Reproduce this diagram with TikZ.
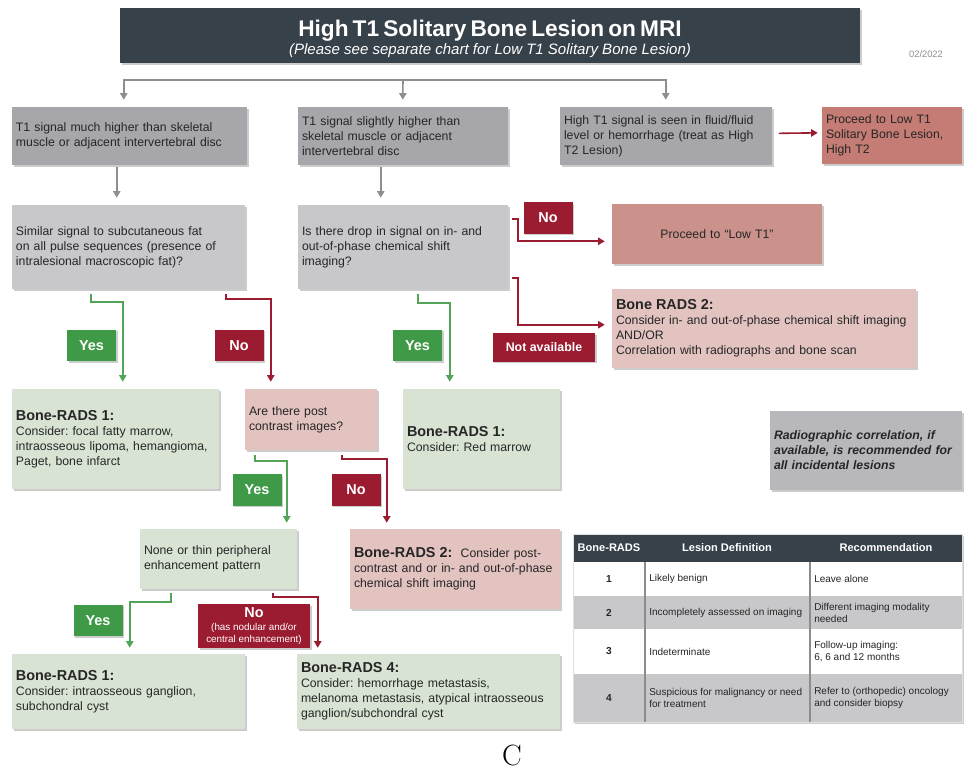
\documentclass[tikz,border=0pt]{standalone}
\usepackage{fontspec}
\setsansfont{Liberation Sans}
\usetikzlibrary{arrows.meta,calc,shadows}

\definecolor{titlebg}{HTML}{37414A}
\definecolor{rowone}{HTML}{A7A6AA}
\definecolor{rowtwo}{HTML}{C8C7CA}
\definecolor{benign}{HTML}{D9E3D3}
\definecolor{workup}{HTML}{E2C3BF}
\definecolor{lowtone}{HTML}{CB928C}
\definecolor{hightwo}{HTML}{C47C74}
\definecolor{yesgreen}{HTML}{3F9A47}
\definecolor{nored}{HTML}{9B1B30}
\definecolor{arrgray}{HTML}{8E8E92}
\definecolor{notegray}{HTML}{B8B7BB}
\definecolor{textdark}{HTML}{262626}
\definecolor{tabline}{HTML}{8C8C8C}

% box from its pixel corners: name, x1, y1, x2, y2, style, text
\newcommand{\radsbox}[7]{%
  \pgfmathsetmacro{\boxw}{(#4-#2)*0.75}%
  \pgfmathsetmacro{\boxh}{(#5-#3)*0.75}%
  \pgfmathsetmacro{\boxtw}{(#4-#2-8)*0.75}%
  \node[#6, minimum width=\boxw pt, minimum height=\boxh pt, text width=\boxtw pt]
    (#1) at ({(#2+#4)/2},{(#3+#5)/2}) {#7};}
\newcommand{\rads}[1]{{\bfseries\fontsize{10.8}{13}\selectfont #1}}

\begin{document}
\frenchspacing
\begin{tikzpicture}[x=0.75pt, y=-0.75pt,
    shade/.style={drop shadow={shadow xshift=1.2pt, shadow yshift=-1.2pt, fill=black, opacity=0.2}},
    base/.style={shade, inner xsep=3pt, inner ysep=4pt, align=left, text=textdark,
      font=\sffamily\fontsize{9.2}{11.25}\selectfont},
    titlebox/.style={base, fill=titlebg, text=white, align=center},
    graybox/.style={base, fill=rowone},
    lgraybox/.style={base, fill=rowtwo},
    greenbox/.style={base, fill=benign},
    pinkbox/.style={base, fill=workup},
    lowbox/.style={base, fill=lowtone, align=center},
    hightwobox/.style={base, fill=hightwo},
    notebox/.style={base, fill=notegray, font=\sffamily\bfseries\itshape\fontsize{9.2}{11.25}\selectfont},
    lab/.style={shade, inner sep=1pt, text=white, minimum width=36.75pt, minimum height=23.5pt,
      font=\sffamily\bfseries\fontsize{10.8}{13}\selectfont},
    yeslab/.style={lab, fill=yesgreen},
    nolab/.style={lab, fill=nored},
    grayarr/.style={draw=arrgray, line width=1.2pt, -{Triangle[length=5pt,width=5.5pt]}},
    yesarr/.style={draw=yesgreen!90!white, line width=1.2pt, -{Triangle[length=5pt,width=5.5pt]}},
    noarr/.style={draw=nored, line width=1.2pt, -{Triangle[length=5pt,width=5.5pt]}},
    tabhead/.style={text=white, font=\sffamily\bfseries\fontsize{8.3}{10}\selectfont},
    tabnum/.style={text=textdark, font=\sffamily\bfseries\fontsize{7.6}{9}\selectfont},
    tabcell/.style={text=textdark, align=left, inner sep=1.5pt, font=\sffamily\fontsize{7.5}{9}\selectfont}]
  \useasboundingbox (0,0) rectangle (967,772);

  % header
  \radsbox{title}{120}{8}{860}{63}{titlebox}{\rule{0pt}{17pt}{\bfseries\fontsize{17}{20}\selectfont High T1 Solitary Bone Lesion on MRI}\\[1pt]
    {\itshape\fontsize{11.3}{14}\selectfont (Please see separate chart for Low T1 Solitary Bone Lesion)}}
  \node[text=arrgray, font=\sffamily\fontsize{7}{8}\selectfont] (date) at (926,54) {02/2022};

  % boxes
  \radsbox{A}{12}{107}{247}{165}{graybox}{T1 signal much higher than skeletal\\muscle or adjacent intervertebral disc}
  \radsbox{B}{298}{107}{508}{165}{graybox}{T1 signal slightly higher than\\skeletal muscle or adjacent\\intervertebral disc}
  \radsbox{C}{560}{107}{772}{165}{graybox}{High T1 signal is seen in fluid/fluid\\level or hemorrhage (treat as High\\T2 Lesion)}
  \radsbox{D}{822}{107}{962}{164}{hightwobox}{Proceed to Low T1\\Solitary Bone Lesion,\\High T2}
  \radsbox{E}{12}{205}{245}{289}{lgraybox}{Similar signal to subcutaneous fat\\on all pulse sequences (presence of\\intralesional macroscopic fat)?}
  \radsbox{F}{298}{205}{508}{289}{lgraybox}{Is there drop in signal on in- and\\out-of-phase chemical shift\\imaging?}
  \radsbox{P1}{612}{204}{822}{264}{lowbox}{Proceed to “Low T1”}
  \radsbox{BR2a}{612}{289}{916}{368}{pinkbox}{\rads{Bone RADS 2:}\\Consider in- and out-of-phase chemical shift imaging\\AND/OR\\Correlation with radiographs and bone scan}
  \radsbox{R1a}{12}{389}{219}{489}{greenbox}{\rads{Bone-RADS 1:}\\Consider: focal fatty marrow,\\intraosseous lipoma, hemangioma,\\Paget, bone infarct}
  \radsbox{Q2}{245}{389}{377}{450}{pinkbox}{Are there post\\contrast images?}
  \radsbox{R1b}{403}{389}{560}{489}{greenbox}{\rads{Bone-RADS 1:}\\Consider: Red marrow}
  \radsbox{note}{770}{411}{962}{490}{notebox}{Radiographic correlation, if\\available, is recommended for\\all incidental lesions}
  \radsbox{None}{140}{529}{297}{589}{greenbox}{None or thin peripheral\\enhancement pattern}
  \radsbox{BR2b}{350}{529}{560}{609}{pinkbox}{\rads{Bone-RADS 2:}\ \ Consider post-\\contrast and or in- and out-of-phase\\chemical shift imaging}
  \radsbox{R1c}{12}{654}{245}{729}{greenbox}{\rads{Bone-RADS 1:}\\Consider: intraosseous ganglion,\\subchondral cyst}
  \radsbox{BR4}{297}{654}{560}{729}{greenbox}{\rads{Bone-RADS 4:}\\Consider: hemorrhage metastasis,\\melanoma metastasis, atypical intraosseous\\ganglion/subchondral cyst}

  % split under the header
  \coordinate (hub) at (403,80);
  \draw[grayarr] (hub) -| ($(A.north west)+(112,-7)$);
  \draw[grayarr] (hub) -- ($(B.north west)+(105,-7)$);
  \draw[grayarr] (hub) -| ($(C.north west)+(106,-7)$);
  \draw[grayarr] ($(A.south west)+(105,2)$) -- ($(E.north west)+(105,-7)$);
  \draw[grayarr] ($(B.south west)+(83,2)$) -- ($(F.north west)+(83,-7)$);
  \draw[noarr] ([xshift=5pt,yshift=2pt]C.east) -- ([xshift=-3pt,yshift=2pt]D.west);

  % yes / no branches
  \draw[noarr] ($(F.north east)+(4,14)$) -- ++(6,0) |- ($(P1.south west)+(-7,-23)$);
  \draw[noarr] ($(F.south east)+(4,-11)$) -- ++(6,0) |- ($(BR2a.north west)+(-7,36)$);
  \draw[yesarr] ($(E.south west)+(79,5)$) -- ++(0,8) -| ($(R1a.north west)+(111,-7)$);
  \draw[noarr] ($(E.south west)+(214,5)$) -- ++(0,5) -| ($(Q2.north west)+(26,-7)$);
  \draw[yesarr] ($(F.south west)+(120,5)$) -- ++(0,9) -| ($(R1b.north west)+(47,-7)$);
  \draw[yesarr] ($(Q2.south west)+(10,5)$) -- ++(0,6) -| ($(None.north west)+(147,-6)$);
  \draw[noarr] ($(Q2.south west)+(97,5)$) -- ++(0,4) -| ($(BR2b.north west)+(37,-6)$);
  \draw[yesarr] ($(None.south west)+(31,4)$) -- ++(0,9) -| ($(R1c.north west)+(118,-6)$);
  \draw[noarr] ($(None.south west)+(133,4)$) -- ++(0,4) -| ($(BR4.north west)+(21,-6)$);

  \node[nolab] (noF) at (548,218) {No};
  \node[nolab, minimum width=77pt, minimum height=21.5pt, font=\sffamily\bfseries\fontsize{9.3}{11}\selectfont] (naF) at (544,347.5) {Not available};
  \node[yeslab] (yesE) at (91.5,345.5) {Yes};
  \node[nolab] (noE) at (239,345.5) {No};
  \node[yeslab] (yesF) at (417.5,345.5) {Yes};
  \node[yeslab] (yesQ) at (257,490) {Yes};
  \node[nolab] (noQ) at (356,490) {No};
  \node[yeslab] (yesN) at (98,620.5) {Yes};
  \node[nolab, minimum width=84pt, minimum height=33pt, align=center,
    font=\sffamily\fontsize{7.4}{9}\selectfont] (noN) at (254,626)
    {{\bfseries\fontsize{10.8}{13}\selectfont No}\\[1pt](has nodular and/or\\central enhancement)};

  % table
  \path[shade, fill=white] (573,534) rectangle (962,722);
  \fill[titlebg] (573,534) rectangle (962,562);
  \fill[rowtwo] (573,596) rectangle (962,629);
  \fill[rowtwo] (573,674) rectangle (962,722);
  \draw[tabline, line width=1.3pt] (645,562) -- (645,722) (810,562) -- (810,722);
  \draw[black!12, line width=0.6pt] (573,534) rectangle (962,722);
  \node[tabhead] (hrads) at (609,548) {Bone-RADS};
  \node[tabhead] (hdef) at (727,548) {Lesion Definition};
  \node[tabhead] (hrec) at (886,548) {Recommendation};
  \foreach \n/\yc/\lesdef/\rec in {1/579/{Likely benign}/{Leave alone},
      2/612.5/{Incompletely assessed on imaging}/{Different imaging modality\\needed},
      3/651.5/{Indeterminate}/{Follow-up imaging:\\6, 6 and 12 months},
      4/698/{Suspicious for malignancy or need\\for treatment}/{Refer to (orthopedic) oncology\\and consider biopsy}}
  {
    \node[tabnum] (num\n) at (609,\yc) {\n};
    \node[tabcell, anchor=west] (def\n) at (647,\yc) {\lesdef};
    \node[tabcell, anchor=west] (rec\n) at (812,\yc) {\rec};
  }

  \node[font=\rmfamily\fontsize{22}{24}\selectfont] (panel) at (512,755) {C};
\end{tikzpicture}
\end{document}
